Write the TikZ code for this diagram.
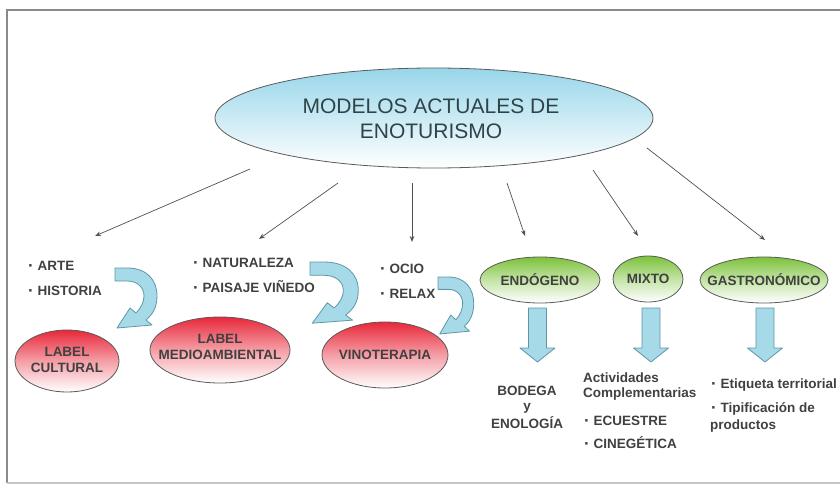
\documentclass[tikz,border=0pt]{standalone}
\usepackage{fontspec}
\setmainfont{Liberation Sans}
\usetikzlibrary{shapes.geometric,arrows.meta}
\definecolor{txt}{HTML}{404040}
\definecolor{ttl}{HTML}{2E4448}
\definecolor{edgegray}{HTML}{5A5A5A}
\definecolor{framegray}{HTML}{8A8A8A}
\definecolor{arrfill}{HTML}{A6DAE8}
\definecolor{arredge}{HTML}{5E97A6}
\definecolor{bluetop}{HTML}{98D6EA}
\definecolor{redtop}{HTML}{E8283A}
\definecolor{greentop}{HTML}{7CC23A}
\definecolor{conncol}{HTML}{505050}
\newcommand\bdot{\raisebox{-1.8pt}{\fontsize{17}{16}\selectfont·}\ }
\newcommand\bendarrow[4]{%
\begin{scope}[shift={(#1,#2)},xscale=#3,yscale=#4]
\draw[bandarr] (0,0) -- (12,0) .. controls (32,0) and (42,12) .. (42,28)
 .. controls (42,40) and (37,47) .. (31,52) -- (37,57) -- (2,60) -- (15,40) -- (21,45)
 .. controls (26,40) and (29,34) .. (29,28) .. controls (29,19) and (22,13) .. (12,13)
 -- (0,13) -- cycle;
\end{scope}}
\newcommand\downblock[1]{%
\draw[bandarr] (#1-9,308) -- (#1+9,308) -- (#1+9,348) -- (#1+17.5,348) -- (#1,362)
 -- (#1-17.5,348) -- (#1-9,348) -- cycle;}
\begin{document}
\begin{tikzpicture}[x=1pt,y=-1pt,
 oval/.style={ellipse,draw=edgegray,line width=0.8pt,inner sep=0pt,outer sep=0pt},
 redoval/.style={oval,top color=redtop,bottom color=white,middle color=redtop!45!white},
 greenoval/.style={oval,top color=greentop,bottom color=white,middle color=greentop!45!white},
 lbl/.style={text=txt,font=\bfseries\fontsize{13.5}{16}\selectfont,align=center,inner sep=0pt},
 item/.style={text=txt,font=\bfseries\fontsize{13.5}{16}\selectfont,inner sep=0pt,anchor=base west},
 citem/.style={item,anchor=base},
 conn/.style={draw=conncol,line width=0.7pt,-{Stealth[length=6pt,width=4.5pt]}},
 bandarr/.style={fill=arrfill,draw=arredge,line width=0.8pt,line join=round}]
\useasboundingbox (0,0) rectangle (840,484);
\draw[framegray,line width=1.6pt] (850,10) -- (7,10) -- (7,483);
\draw[framegray!50,line width=1.2pt] (7,483) -- (850,483);

% main ellipse
\node[oval,minimum width=438pt,minimum height=100pt,top color=bluetop,bottom color=white] (main) at (434,118) {};
\node[text=ttl,font=\fontsize{21}{25}\selectfont,align=center,inner sep=0pt] (maint) at (431,119) {MODELOS ACTUALES DE\\ENOTURISMO};

% red ellipses
\node[redoval,minimum width=104pt,minimum height=62pt] (cult) at (67,361) {};
\node[lbl] (cultt) at (67,360) {LABEL\\CULTURAL};
\node[redoval,minimum width=140pt,minimum height=66pt] (medio) at (220,350) {};
\node[lbl] (mediot) at (220,347) {LABEL\\MEDIOAMBIENTAL};
\node[redoval,minimum width=126pt,minimum height=66pt] (vino) at (385,355) {};
\node[lbl] (vinot) at (385,355) {VINOTERAPIA};

% green ellipses
\node[greenoval,minimum width=120pt,minimum height=46pt] (endo) at (540,280) {};
\node[lbl] (endot) at (540,280) {ENDÓGENO};
\node[greenoval,minimum width=70pt,minimum height=46pt] (mixto) at (648,279) {};
\node[lbl] (mixtot) at (648,279) {MIXTO};
\node[greenoval,minimum width=128pt,minimum height=46pt] (gastro) at (764,280) {};
\node[lbl] (gastrot) at (764,280) {GASTRONÓMICO};

% bullet lists
\node[item] (arte) at (28,270) {\bdot ARTE};
\node[item] (hist) at (28,295) {\bdot HISTORIA};
\node[item] (natu) at (193,267) {\bdot NATURALEZA};
\node[item] (pais) at (193,292) {\bdot PAISAJE VIÑEDO};
\node[item] (ocio) at (380,273) {\bdot OCIO};
\node[item] (relax) at (380,298) {\bdot RELAX};

% bottom texts
\node[citem] (bod) at (527,395) {BODEGA};
\node[citem] (by) at (527,410.5) {y};
\node[citem] (enol) at (527,428) {ENOLOGÍA};
\node[item] (acti) at (583,382) {Actividades};
\node[item] (comp) at (583,397) {Complementarias};
\node[item] (ecue) at (584,425) {\bdot ECUESTRE};
\node[item] (cine) at (584,448) {\bdot CINEGÉTICA};
\node[item] (etiq) at (711,388) {\bdot Etiqueta territorial};
\node[item] (tipi) at (711,412) {\bdot Tipificación de};
\node[item] (prod) at (710,429) {productos};

% connectors from main ellipse
\coordinate (e1) at (95,236);
\coordinate (e2) at (259,239);
\coordinate (e3) at (412,242);
\draw[conn] ([shift={(-184,51)}]main.center) -- (e1);
\draw[conn] ([shift={(-96,65)}]main.center) -- (e2);
\draw[conn] ([shift={(-22,65)}]main.center) -- (e3);
\draw[conn] ([shift={(73,65)}]main.center) -- ([shift={(-15,-21)}]endo.north);
\draw[conn] ([shift={(159,52)}]main.center) -- ([shift={(-10,-20)}]mixto.north);
\draw[conn] ([shift={(213,30)}]main.center) -- ([shift={(1,-17)}]gastro.north);

% curved block arrows
\bendarrow{115}{268}{1}{1}
\bendarrow{310}{262}{1.15}{1.02}
\bendarrow{438}{277}{0.85}{0.95}

% straight block arrows
\downblock{537.5}
\downblock{651}
\downblock{765}
\end{tikzpicture}
\end{document}
